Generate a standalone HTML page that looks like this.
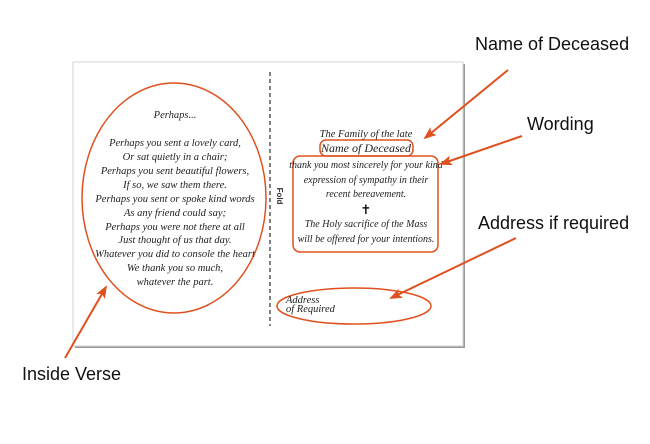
<!DOCTYPE html>
<html><head><meta charset="utf-8"><style>
body{margin:0;background:#fff;width:650px;height:444px;overflow:hidden}
svg{display:block}
.lab{font-family:"Liberation Sans",sans-serif;font-size:18px;fill:#111}
.s{font-family:"Liberation Serif",serif;font-style:italic;font-size:10.5px;fill:#222}
</style></head><body>
<svg width="650" height="444" viewBox="0 0 650 444">
<defs>
<marker id="ah" markerWidth="13" markerHeight="10" refX="11" refY="5" orient="auto" markerUnits="userSpaceOnUse">
<path d="M0,0 L13,5 L0,10 L3,5 Z" fill="#e0501e"/></marker>
</defs>
<rect x="75" y="64" width="390" height="284" fill="#9a9a9a"/>
<rect x="73" y="62" width="390" height="284" fill="#fff" stroke="#d5d5d5" stroke-width="1"/>
<line x1="270" y1="72" x2="270" y2="326" stroke="#555" stroke-width="1.5" stroke-dasharray="4,3"/>
<text x="0" y="0" transform="translate(277,196) rotate(90)" font-family="Liberation Sans,sans-serif" font-size="8" font-weight="bold" fill="#333" text-anchor="middle">Fold</text>
<ellipse cx="174" cy="198" rx="92" ry="115" fill="none" stroke="#e0501e" stroke-width="1.5"/>
<g class="s" text-anchor="middle">
<text x="175" y="118">Perhaps...</text>
<text x="175" y="146">Perhaps you sent a lovely card,</text>
<text x="175" y="160">Or sat quietly in a chair;</text>
<text x="175" y="174">Perhaps you sent beautiful flowers,</text>
<text x="175" y="188">If so, we saw them there.</text>
<text x="175" y="202">Perhaps you sent or spoke kind words</text>
<text x="175" y="216">As any friend could say;</text>
<text x="175" y="230">Perhaps you were not there at all</text>
<text x="175" y="243">Just thought of us that day.</text>
<text x="175" y="257">Whatever you did to console the heart</text>
<text x="175" y="271">We thank you so much,</text>
<text x="175" y="285">whatever the part.</text>
</g>
<rect x="320" y="140" width="93" height="16" rx="6" fill="none" stroke="#e0501e" stroke-width="1.5"/>
<rect x="293" y="156" width="145" height="96" rx="7" fill="none" stroke="#e0501e" stroke-width="1.5"/>
<g class="s" text-anchor="middle">
<text x="366" y="137">The Family of the late</text>
<text x="366" y="152" font-size="12">Name of Deceased</text>
<text x="366" y="168" font-size="10">thank you most sincerely for your kind</text>
<text x="366" y="183" font-size="10">expression of sympathy in their</text>
<text x="366" y="197" font-size="10">recent bereavement.</text>
<text x="366" y="227" font-size="10">The Holy sacrifice of the Mass</text>
<text x="366" y="242" font-size="10">will be offered for your intentions.</text>
</g>
<text x="366" y="214" text-anchor="middle" font-family="DejaVu Sans,sans-serif" font-size="13" font-weight="bold" fill="#111">✝</text>
<ellipse cx="354" cy="306" rx="77" ry="18" fill="none" stroke="#e0501e" stroke-width="1.5"/>
<text class="s" x="286" y="303" font-size="6.5">Address</text>
<text class="s" x="286" y="312" font-size="6.5">of Required</text>
<g stroke="#e0501e" stroke-width="2" marker-end="url(#ah)">
<line x1="508" y1="70" x2="425" y2="138"/>
<line x1="522" y1="136" x2="441" y2="164"/>
<line x1="516" y1="238" x2="391" y2="298"/>
<line x1="65" y1="358" x2="106" y2="287"/>
</g>
<text class="lab" x="475" y="50">Name of Deceased</text>
<text class="lab" x="527" y="130">Wording</text>
<text class="lab" x="478" y="229">Address if required</text>
<text class="lab" x="22" y="380">Inside Verse</text>
</svg>
</body></html>
